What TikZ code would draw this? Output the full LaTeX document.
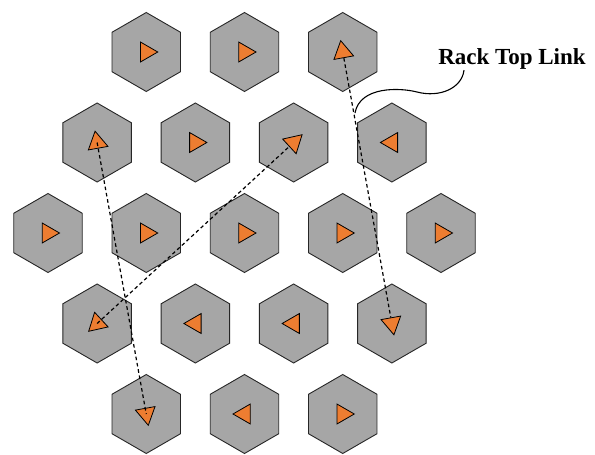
\documentclass[tikz,border=0pt]{standalone}
\usepackage{fontspec}
\setmainfont{Liberation Serif}
\usepackage{tikz}
\usetikzlibrary{shapes.geometric, arrows.meta, calc}
\definecolor{hexgray}{RGB}{166,166,166}
\definecolor{hexline}{RGB}{38,38,38}
\definecolor{triorange}{RGB}{237,125,49}
\tikzset{
  rack/.style={regular polygon, regular polygon sides=6, rotate=30,
    draw=hexline, fill=hexgray, minimum size=79pt, inner sep=0pt,
    line width=0.9pt},
  flow/.style={regular polygon, regular polygon sides=3,
    draw=black, fill=triorange, minimum size=23pt, inner sep=0pt,
    line width=0.8pt},
  toplink/.style={dash pattern=on 3.6pt off 2.8pt, line width=1.2pt, color=black},
  callout/.style={line width=1.1pt, color=black}
}

\begin{document}
\begin{tikzpicture}[x=1pt, y=-1pt]
  \useasboundingbox (0,0) rectangle (595,455);

  % racks, row by row
  \node[rack] (h11) at (146.25,52) {};
  \node[rack] (h12) at (244.5,52) {};
  \node[rack] (h13) at (342.75,52) {};

  \node[rack] (h21) at (97.125,142.5) {};
  \node[rack] (h22) at (195.375,142.5) {};
  \node[rack] (h23) at (293.625,142.5) {};
  \node[rack] (h24) at (391.875,142.5) {};

  \node[rack] (h31) at (48,233) {};
  \node[rack] (h32) at (146.25,233) {};
  \node[rack] (h33) at (244.5,233) {};
  \node[rack] (h34) at (342.75,233) {};
  \node[rack] (h35) at (441,233) {};

  \node[rack] (h41) at (97.125,323.5) {};
  \node[rack] (h42) at (195.375,323.5) {};
  \node[rack] (h43) at (293.625,323.5) {};
  \node[rack] (h44) at (391.875,323.5) {};

  \node[rack] (h51) at (146.25,414) {};
  \node[rack] (h52) at (244.5,414) {};
  \node[rack] (h53) at (342.75,414) {};

  % airflow direction in each rack
  \node[flow, rotate=-90] (t11) at (h11) {};
  \node[flow, rotate=-90] (t12) at (h12) {};
  \node[flow, rotate=10.26] (t13) at (h13) {};

  \node[flow, rotate=10.26] (t21) at (h21) {};
  \node[flow, rotate=-90] (t22) at (h22) {};
  \node[flow, rotate=-47.35] (t23) at (h23) {};
  \node[flow, rotate=90] (t24) at (h24) {};

  \node[flow, rotate=-90] (t31) at (h31) {};
  \node[flow, rotate=-90] (t32) at (h32) {};
  \node[flow, rotate=-90] (t33) at (h33) {};
  \node[flow, rotate=-90] (t34) at (h34) {};
  \node[flow, rotate=-90] (t35) at (h35) {};

  \node[flow, rotate=132.65] (t41) at (h41) {};
  \node[flow, rotate=90] (t42) at (h42) {};
  \node[flow, rotate=90] (t43) at (h43) {};
  \node[flow, rotate=190.26] (t44) at (h44) {};

  \node[flow, rotate=190.26] (t51) at (h51) {};
  \node[flow, rotate=90] (t52) at (h52) {};
  \node[flow, rotate=-90] (t53) at (h53) {};

  % top-of-rack links
  \draw[toplink] (t13) -- (t44);
  \draw[toplink] (t21.center) -- (t51.center);
  \draw[toplink] (t41.center) -- (t23);

  % label
  \node[anchor=base, inner sep=1pt, font=\fontsize{23}{27}\selectfont\bfseries]
    (lbl) at (512,64) {Rack Top Link};
  \coordinate (lnk) at (355,113);
  \draw[callout] ([xshift=-48pt]lbl.south) .. controls (462,88) and (440,98) .. (417,92)
    .. controls (400,87.6) and (360,86) .. (lnk);
\end{tikzpicture}
\end{document}
